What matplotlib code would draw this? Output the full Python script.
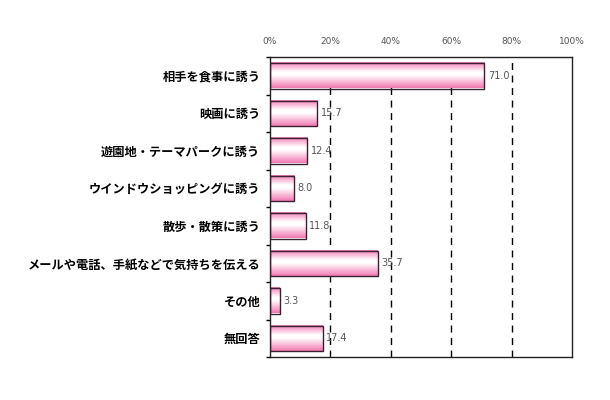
import numpy as np
import matplotlib
matplotlib.use("Agg")
import matplotlib.pyplot as plt
from matplotlib.colors import LinearSegmentedColormap

plt.rcParams['font.family'] = ['Noto Sans CJK JP', 'DejaVu Sans']

categories = [
    "相手を食事に誘う",
    "映画に誘う",
    "遊園地・テーマパークに誘う",
    "ウインドウショッピングに誘う",
    "散歩・散策に誘う",
    "メールや電話、手紙などで気持ちを伝える",
    "その他",
    "無回答",
]
values = [71.0, 15.7, 12.4, 8.0, 11.8, 35.7, 3.3, 17.4]
xticks = [0, 20, 40, 60, 80, 100]
xtick_labels = ["0%", "20%", "40%", "60%", "80%", "100%"]

fig = plt.figure(figsize=(6.1, 4.0), dpi=100)
ax = fig.add_axes([270 / 610, 1 - 357 / 400, 302 / 610, 300 / 400])

# pink -> white -> pink vertical gradient
cmap = LinearSegmentedColormap.from_list(
    "pinkgrad",
    [(0.0, "#f27fb5"), (0.38, "#ffffff"), (0.5, "#ffffff"), (0.85, "#f6a2c9"), (1.0, "#f07ab2")],
)
grad = np.linspace(0, 1, 64).reshape(-1, 1)

bar_h = 0.68
y = np.arange(len(categories))
for yi, v in zip(y, values):
    ax.imshow(grad, cmap=cmap, aspect="auto", extent=(0, v, yi + bar_h / 2, yi - bar_h / 2),
              origin="upper", zorder=2, interpolation="bilinear")
bars = ax.barh(y, values, height=bar_h, facecolor="none", edgecolor="#3a2030",
               linewidth=1.0, zorder=3)

for yi, v in zip(y, values):
    ax.text(v + 1.2, yi, f"{v:.1f}", va="center", ha="left", fontsize=7,
            color="#555555", family=["DejaVu Sans"], zorder=4)

ax.set_xlim(0, 100)
ax.set_ylim(len(categories) - 0.5, -0.5)
ax.set_xticks(xticks)
ax.set_xticklabels(xtick_labels, fontsize=6.5, color="#555555", family=["DejaVu Sans"])
ax.xaxis.tick_top()
ax.tick_params(axis="x", length=0, pad=8)

for gx in xticks[1:-1]:
    ax.axvline(gx, color="black", linestyle=(0, (5, 4)), linewidth=1.0, zorder=1)

ax.set_yticks(y)
ax.set_yticklabels(categories, fontsize=8.8, fontweight="bold")
ax.tick_params(axis="y", length=0, pad=7)
ax.set_yticks(np.arange(-0.5, len(categories), 1.0), minor=True)
ax.tick_params(axis="y", which="minor", length=3, width=1, direction="out")

for s in ax.spines.values():
    s.set_linewidth(1.0)
    s.set_color("#222222")

fig.savefig("out.png", dpi=100)
